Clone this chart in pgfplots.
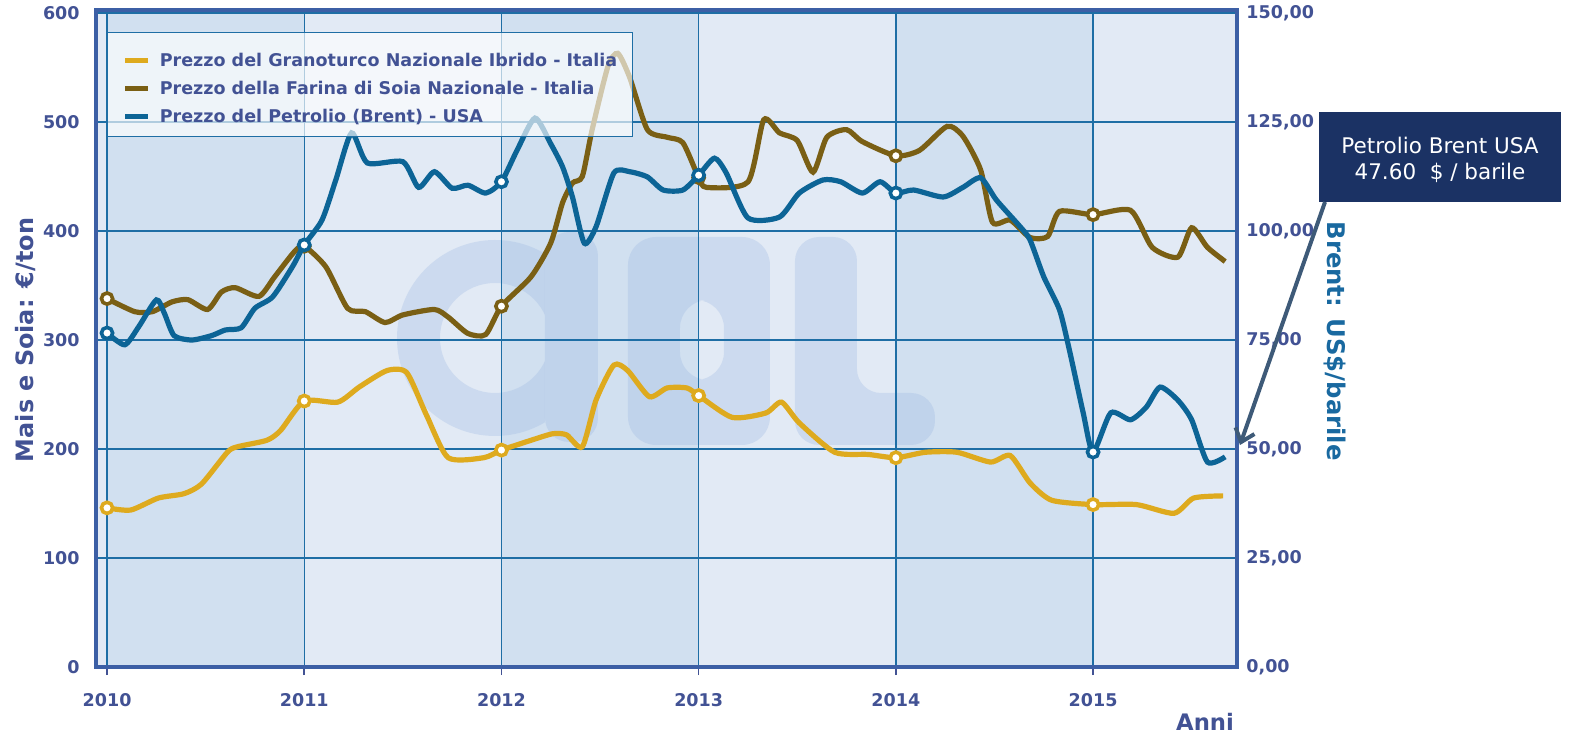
\documentclass[border=0pt]{standalone}
\usepackage{fontspec}
\setmainfont{DejaVu Sans}
\usepackage{pgfplots}
\usepackage{pgfplotstable}
\pgfplotsset{compat=1.18}
\usetikzlibrary{arrows.meta}

\definecolor{bandD}{RGB}{209,224,240}
\definecolor{bandL}{RGB}{226,234,245}
\definecolor{gridc}{RGB}{30,110,165}
\definecolor{framec}{RGB}{60,95,165}
\definecolor{labc}{RGB}{66,82,148}
\definecolor{rlabc}{RGB}{25,105,160}
\definecolor{corn}{RGB}{222,170,30}
\definecolor{soy}{RGB}{122,95,20}
\definecolor{brent}{RGB}{12,100,150}
\definecolor{navy}{RGB}{27,50,100}
\definecolor{arrowc}{RGB}{62,90,120}
\definecolor{wm}{RGB}{150,180,225}

\pgfplotstableread{
x y
2010.00 146
2010.12 144
2010.26 155
2010.39 159
2010.48 168
2010.61 197
2010.66 202
2010.81 208
2010.88 217
2011.00 244
2011.17 243
2011.28 257
2011.42 272
2011.52 270
2011.62 231
2011.73 192
2011.91 192
2012.00 199
2012.15 208
2012.26 214
2012.33 213
2012.41 202
2012.48 245
2012.57 277
2012.64 272
2012.75 248
2012.84 256
2012.94 256
2013.00 249
2013.17 229
2013.34 233
2013.42 243
2013.51 224
2013.69 197
2013.86 195
2014.00 192
2014.15 197
2014.31 197
2014.48 188
2014.58 194
2014.68 169
2014.79 153
2015.00 149
2015.22 149
2015.41 141
2015.51 155
2015.66 157
}\corndata

\pgfplotstableread{
x y
2010.00 338
2010.14 326
2010.23 326
2010.33 335
2010.41 337
2010.51 328
2010.58 344
2010.65 348
2010.77 340
2010.85 358
2010.95 381
2011.00 386
2011.11 367
2011.22 329
2011.31 326
2011.41 316
2011.50 323
2011.66 328
2011.73 321
2011.83 306
2011.92 305
2012.00 331
2012.15 358
2012.25 389
2012.31 426
2012.36 444
2012.41 450
2012.46 493
2012.54 551
2012.59 563
2012.65 541
2012.74 493
2012.84 486
2012.92 481
2013.00 449
2013.04 440
2013.25 445
2013.33 502
2013.41 490
2013.50 483
2013.58 454
2013.65 486
2013.75 493
2013.83 482
2014.00 469
2014.12 474
2014.26 496
2014.34 487
2014.43 456
2014.49 408
2014.58 410
2014.68 394
2014.77 395
2014.83 418
2015.00 415
2015.19 419
2015.30 385
2015.43 376
2015.50 403
2015.58 385
2015.67 372
}\soydata

\pgfplotstableread{
x y
2010.00 76.6
2010.09 73.9
2010.16 78.0
2010.25 84.2
2010.29 81.2
2010.34 76.0
2010.43 75.0
2010.53 76.0
2010.60 77.3
2010.68 77.8
2010.75 82.3
2010.84 84.9
2010.94 91.8
2011.00 96.8
2011.09 102.5
2011.16 111.7
2011.24 122.5
2011.32 115.6
2011.50 115.9
2011.58 110.0
2011.66 113.6
2011.75 109.8
2011.83 110.5
2011.92 108.7
2012.00 111.3
2012.08 118.6
2012.17 125.9
2012.25 120.0
2012.31 114.7
2012.36 107.8
2012.42 97.2
2012.48 101.0
2012.57 113.3
2012.65 113.6
2012.74 112.4
2012.82 109.4
2012.92 109.4
2013.00 112.8
2013.08 116.7
2013.14 113.3
2013.25 103.0
2013.41 103.2
2013.51 108.7
2013.63 111.7
2013.72 111.3
2013.83 108.7
2013.92 111.3
2014.00 108.7
2014.09 109.4
2014.24 107.8
2014.34 110.0
2014.43 112.2
2014.51 107.1
2014.63 101.0
2014.68 98.0
2014.75 89.5
2014.83 81.9
2014.88 72.7
2014.95 58.3
2015.00 49.3
2015.09 58.3
2015.19 56.7
2015.27 59.6
2015.34 64.2
2015.43 61.2
2015.50 56.7
2015.58 47.0
2015.67 48.2
}\brentdata

\pgfplotstableread{
x y
2010 146
2011 244
2012 199
2013 249
2014 192
2015 149
}\cornmarks

\pgfplotstableread{
x y
2010 338
2011 386
2012 331
2013 449
2014 469
2015 415
}\soymarks

\pgfplotstableread{
x y
2010 76.6
2011 96.8
2012 111.3
2013 112.8
2014 108.7
2015 49.3
}\brentmarks

\pgfplotsset{
  base/.style={scale only axis, width=570.5bp, height=328.5bp,
    xmin=2009.944, xmax=2015.73, at={(48bp,34bp)}, anchor=south west},
  tickfont/.style={font=\fontsize{8.8}{10}\selectfont\bfseries, text=labc},
  yearmark/.style={only marks, mark=*, mark size=2.8bp, mark options={fill=white, draw=#1, line width=1.8bp}},
}

\begin{document}
\begin{tikzpicture}
\path[use as bounding box] (0,0) rectangle (785bp,367.5bp);

% background bands
\begin{axis}[base, ymin=0, ymax=602.75, hide axis]
\fill[bandL] (axis cs:2009.944,0) rectangle (axis cs:2010,602.75);
\fill[bandD] (axis cs:2010,0) rectangle (axis cs:2011,602.75);
\fill[bandL] (axis cs:2011,0) rectangle (axis cs:2012,602.75);
\fill[bandD] (axis cs:2012,0) rectangle (axis cs:2013,602.75);
\fill[bandL] (axis cs:2013,0) rectangle (axis cs:2014,602.75);
\fill[bandD] (axis cs:2014,0) rectangle (axis cs:2015,602.75);
\fill[bandL] (axis cs:2015,0) rectangle (axis cs:2015.73,602.75);
\end{axis}

% watermark
\begin{scope}[x=0.5bp,y=-0.5bp,shift={(0,367.5bp)}]
  \begin{scope}
    \clip (380,200) rectangle (545,460);
    \fill[wm, fill opacity=0.28, even odd rule] (495,338) circle (98) (495,338) circle (55);
  \end{scope}
  \fill[wm, fill opacity=0.28, rounded corners=12bp] (545,232) rectangle (598,442);
  \fill[wm, fill opacity=0.28, even odd rule, rounded corners=14bp] (628,237) rectangle (770,445) (680,300) rectangle (724,380);
  \fill[wm, fill opacity=0.28, rounded corners=12bp] (795,237) -- (857,237) -- (857,393) -- (935,393) -- (935,445) -- (795,445) -- cycle;
\end{scope}

% left axis: corn and soy
\begin{axis}[base, ymin=0, ymax=602.75,
  axis line style={framec, line width=1.6bp},
  grid=major, major grid style={gridc, line width=0.65bp},
  xtick={2010,2011,2012,2013,2014,2015},
  xticklabels={2010,2011,2012,2013,2014,2015},
  ytick={0,100,...,600},
  tick align=outside, xtick pos=bottom, ytick pos=left,
  major tick length=4bp,
  xtick style={labc, line width=0.8bp},
  ytick style={draw=none},
  ticklabel style={tickfont},
  /pgf/number format/assume math mode=true,
  /pgf/number format/1000 sep={},
  xticklabel style={anchor=center, yshift=-12.5bp},
  yticklabel style={anchor=east, inner sep=0pt, xshift=-4bp},
  ylabel={Mais e Soia: €/ton},
  every axis y label/.style={at={(rel axis cs:-0.0614,0.4977)}, rotate=90, anchor=center,
    font=\fontsize{12}{14}\selectfont\bfseries, text=labc},
  xlabel={Anni},
  every axis x label/.style={at={(rel axis cs:0.972,-0.0837)}, anchor=center,
    font=\fontsize{11.4}{13}\selectfont\bfseries, text=labc},
]
\addplot[corn, line width=2.6bp, smooth, tension=0.4] table {\corndata};
\addplot[soy, line width=2.6bp, smooth, tension=0.4] table {\soydata};
\addplot[yearmark=corn] table {\cornmarks};
\addplot[yearmark=soy] table {\soymarks};
\end{axis}

% right axis: Brent
\begin{axis}[base, ymin=0, ymax=150.69,
  axis x line=none, axis y line*=right,
  y axis line style={framec, line width=1.6bp},
  ytick={0,25,...,150},
  major tick length=4bp,
  ytick style={draw=none},
  ticklabel style={tickfont},
  yticklabel style={anchor=west, inner sep=0pt, xshift=4.5bp,
    /pgf/number format/.cd, fixed, fixed zerofill, precision=2, use comma, assume math mode=true},
  ylabel={Brent: US\$/barile},
  every axis y label/.style={at={(rel axis cs:1.0859,0.496)}, rotate=-90, anchor=center,
    font=\fontsize{12.2}{14}\selectfont\bfseries, text=rlabc},
  legend image code/.code={\draw[#1, line width=2.6bp] (0bp,-1.8bp) -- (11.5bp,-1.8bp);},
  legend cell align=left,
  legend style={at={(rel axis cs:0.00964,0.9665)}, anchor=north west,
    draw=gridc, line width=0.6bp, fill=white, fill opacity=0.65, text opacity=1, draw opacity=1,
    font=\fontsize{8.8}{10}\selectfont\bfseries, text=labc,
    inner xsep=7.5bp, inner ysep=5bp, row sep=0pt, column sep=4.5bp,
    nodes={inner sep=0pt, text height=10bp, text depth=0bp, minimum height=14bp}},
]
\addlegendimage{corn}
\addlegendentry{Prezzo del Granoturco Nazionale Ibrido - Italia}
\addlegendimage{soy}
\addlegendentry{Prezzo della Farina di Soia Nazionale - Italia}
\addplot[brent, line width=2.6bp, smooth, tension=0.4] table {\brentdata};
\addlegendentry{Prezzo del Petrolio (Brent) - USA}
\addplot[yearmark=brent, forget plot] table {\brentmarks};
\end{axis}

% callout
\fill[navy] (659.5bp,266.5bp) rectangle (780.5bp,311.5bp);
\node[text=white, font=\fontsize{10.8}{12}\selectfont, align=center, inner sep=0pt] at (720bp,295bp) {Petrolio Brent USA};
\node[text=white, font=\fontsize{10.8}{12}\selectfont, align=center, inner sep=0pt] at (720bp,281bp) {47.60\ \ \$ / barile};
\draw[arrowc, line width=2bp, -{Straight Barb[length=6bp, width=10bp]}] (662.5bp,266.5bp) -- (620bp,145bp);
\end{tikzpicture}
\end{document}
